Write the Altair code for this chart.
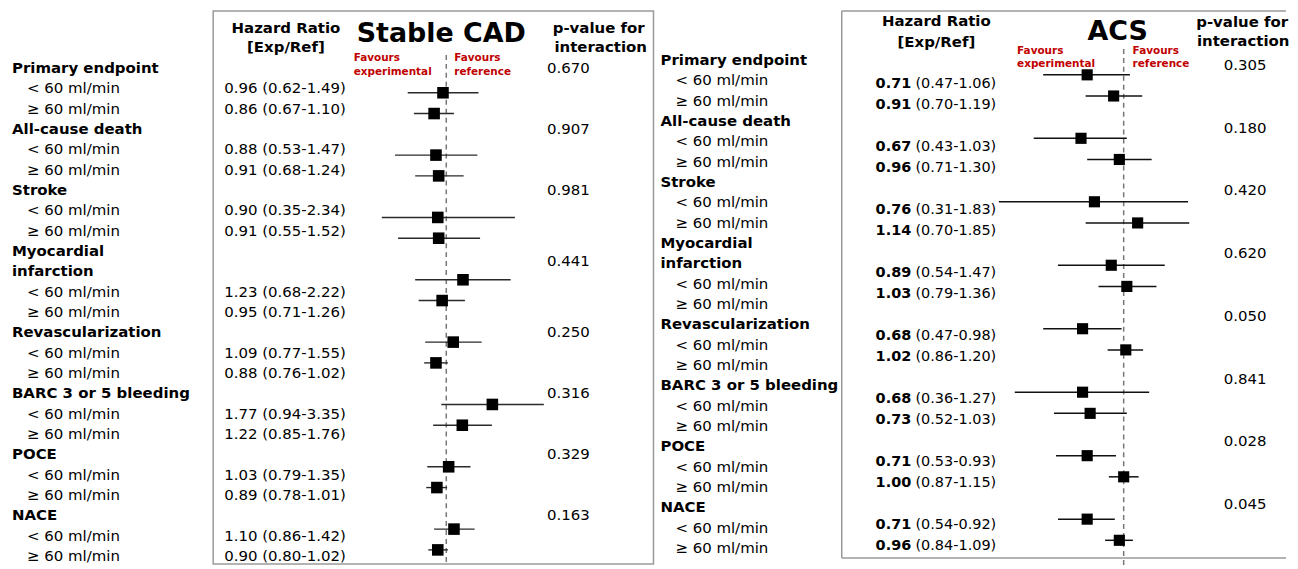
import altair as alt
import pandas as pd

# ---------------- data ----------------
header_lines = [["Primary endpoint"], ["All-cause death"], ["Stroke"],
                ["Myocardial", "infarction"], ["Revascularization"],
                ["BARC 3 or 5 bleeding"], ["POCE"], ["NACE"]]
subgroups = ["< 60 ml/min", "\u2265 60 ml/min"]

cad_hr = [0.96, 0.86, 0.88, 0.91, 0.90, 0.91, 1.23, 0.95, 1.09, 0.88, 1.77, 1.22, 1.03, 0.89, 1.10, 0.90]
cad_lo = [0.62, 0.67, 0.53, 0.68, 0.35, 0.55, 0.68, 0.71, 0.77, 0.76, 0.94, 0.85, 0.79, 0.78, 0.86, 0.80]
cad_hi = [1.49, 1.10, 1.47, 1.24, 2.34, 1.52, 2.22, 1.26, 1.55, 1.02, 3.35, 1.76, 1.35, 1.01, 1.42, 1.02]
cad_p = ["0.670", "0.907", "0.981", "0.441", "0.250", "0.316", "0.329", "0.163"]

acs_hr = [0.71, 0.91, 0.67, 0.96, 0.76, 1.14, 0.89, 1.03, 0.68, 1.02, 0.68, 0.73, 0.71, 1.00, 0.71, 0.96]
acs_lo = [0.47, 0.70, 0.43, 0.71, 0.31, 0.70, 0.54, 0.79, 0.47, 0.86, 0.36, 0.52, 0.53, 0.87, 0.54, 0.84]
acs_hi = [1.06, 1.19, 1.03, 1.30, 1.83, 1.85, 1.47, 1.36, 0.98, 1.20, 1.27, 1.03, 0.93, 1.15, 0.92, 1.09]
acs_p = ["0.305", "0.180", "0.420", "0.620", "0.050", "0.841", "0.028", "0.045"]

FONT = "DejaVu Sans"
RED = "#c00000"
FRAME = "#9a9a9a"


def build(hr, lo, hi, p):
    labs, est, prs = [], [], []
    r = 0
    for g, lines in enumerate(header_lines):
        hrows = []
        for line in lines:
            labs.append({"text": line, "row": r, "kind": "header"})
            hrows.append(r)
            r += 1
        prs.append({"p": p[g], "row": sum(hrows) / len(hrows), "k": 3 * g})
        for j, sg in enumerate(subgroups):
            i = 2 * g + j
            labs.append({"text": sg, "row": r, "kind": "sub"})
            est.append({"hr": hr[i], "lo": lo[i], "hi": hi[i], "row": r, "k": 3 * g + j,
                        "full": f"{hr[i]:.2f} ({lo[i]:.2f}-{hi[i]:.2f})",
                        "hrs": f"{hr[i]:.2f}", "ci": f"({lo[i]:.2f}-{hi[i]:.2f})"})
            r += 1
    return pd.DataFrame(labs), pd.DataFrame(est), pd.DataFrame(prs)


def ysc(s, p, H):
    return alt.Scale(domain=[-s / p, (H - s) / p], reverse=True, nice=False, zero=False)


def one():
    return pd.DataFrame({"t": ["x"]})


def txt(t, x, y, size, bold=False, color="black", align="center"):
    return alt.Chart(pd.DataFrame({"t": [t]})).mark_text(
        fontSize=size, fontWeight="bold" if bold else "normal", color=color,
        align=align, baseline="middle").encode(text="t:N", x=alt.value(x), y=alt.value(y))


def labels_chart(lab, W, H, s, p, xh, xs_):
    sc = ysc(s, p, H)
    base = alt.Chart(lab)
    heads = base.transform_filter(alt.datum.kind == "header").mark_text(
        align="left", baseline="middle", fontSize=15, fontWeight="bold", color="black").encode(
        text="text:N", x=alt.value(xh), y=alt.Y("row:Q", scale=sc, axis=None))
    subs = base.transform_filter(alt.datum.kind == "sub").mark_text(
        align="left", baseline="middle", fontSize=15, color="black").encode(
        text="text:N", x=alt.value(xs_), y=alt.Y("row:Q", scale=sc, axis=None))
    return alt.layer(heads, subs).properties(
        width=W, height=H, view=alt.ViewBackground(stroke="transparent"))


BOX = alt.ViewBackground(stroke=FRAME, strokeWidth=1.5)

# ---------------- left panel: Stable CAD ----------------
labL, estL, pL = build(cad_hr, cad_lo, cad_hi, cad_p)
HL, WL = 555, 442
xsL = alt.Scale(type="log", domain=[0.45, 4.0], range=[169.3, 346.3], clamp=True)
labelGridL = ysc(57, 20.42, HL)
markGridL = ysc(82, 20.86, HL)

ciL = alt.Chart(estL).mark_rule(color="#2a2a2a", strokeWidth=1.4).encode(
    x=alt.X("lo:Q", scale=xsL, axis=None), x2="hi:Q",
    y=alt.Y("k:Q", scale=markGridL, axis=None))
ptL = alt.Chart(estL).mark_point(shape="square", filled=True, size=135, color="black", opacity=1).encode(
    x=alt.X("hr:Q", scale=xsL, axis=None), y=alt.Y("k:Q", scale=markGridL, axis=None))
refL = alt.Chart(one()).mark_rule(
    color="#777777", strokeWidth=1.5, strokeDash=[5, 4]).encode(
    x=alt.XDatum(1.0, type="quantitative", scale=xsL, axis=None),
    y=alt.value(44), y2=alt.value(HL))
hrtL = alt.Chart(estL).mark_text(align="left", baseline="middle", fontSize=15, color="black").encode(
    text="full:N", x=alt.value(11), y=alt.Y("row:Q", scale=labelGridL, axis=None))
pvL = alt.Chart(pL).mark_text(align="left", baseline="middle", fontSize=15, color="black").encode(
    text="p:N", x=alt.value(335), y=alt.Y("row:Q", scale=labelGridL, axis=None))

mainL = alt.layer(
    refL, ciL, ptL, hrtL, pvL,
    txt("Hazard Ratio", 73, 17, 15, True),
    txt("[Exp/Ref]", 73, 36, 15, True),
    txt("Stable CAD", 229, 23, 27, True),
    txt("p-value for", 387, 17, 15, True),
    txt("interaction", 389, 36, 15, True),
    txt("Favours", 141, 47, 10.5, True, RED, "left"),
    txt("experimental", 141, 61.5, 10.5, True, RED, "left"),
    txt("Favours", 242, 47, 10.5, True, RED, "left"),
    txt("reference", 242, 61.5, 10.5, True, RED, "left"),
).resolve_scale(y="independent").properties(width=WL, height=HL, view=BOX)

leftLabels = labels_chart(labL, 205, HL, 57, 20.42, 3, 18)

# ---------------- right panel: ACS ----------------
labR, estR, pR = build(acs_hr, acs_lo, acs_hi, acs_p)
HR_, WR = 549, 446
xsR = alt.Scale(type="log", domain=[0.3, 2.0], range=[154.2, 357.2])
hrGridR = ysc(73, 21.1, HR_)
pGridR = ysc(54, 21.0, HR_)
markGridR = ysc(64, 21.24, HR_)

ciR = alt.Chart(estR).mark_rule(color="#111111", strokeWidth=1.5).encode(
    x=alt.X("lo:Q", scale=xsR, axis=None), x2="hi:Q",
    y=alt.Y("k:Q", scale=markGridR, axis=None))
ptR = alt.Chart(estR).mark_point(shape="square", filled=True, size=125, color="black", opacity=1).encode(
    x=alt.X("hr:Q", scale=xsR, axis=None), y=alt.Y("k:Q", scale=markGridR, axis=None))
refR = alt.Chart(one()).mark_rule(
    color="#777777", strokeWidth=1.5, strokeDash=[5, 4]).encode(
    x=alt.XDatum(1.0, type="quantitative", scale=xsR, axis=None),
    y=alt.value(38), y2=alt.value(HR_ + 8))
hrbR = alt.Chart(estR).mark_text(align="left", baseline="middle", fontSize=14.5,
                                 fontWeight="bold", color="black").encode(
    text="hrs:N", x=alt.value(34), y=alt.Y("k:Q", scale=hrGridR, axis=None))
ciTR = alt.Chart(estR).mark_text(align="left", baseline="middle", fontSize=14.5, color="black").encode(
    text="ci:N", x=alt.value(74), y=alt.Y("k:Q", scale=hrGridR, axis=None))
pvR = alt.Chart(pR).mark_text(align="center", baseline="middle", fontSize=15, color="black").encode(
    text="p:N", x=alt.value(405), y=alt.Y("k:Q", scale=pGridR, axis=None))

# open frame (top, left, bottom) – the right edge of this panel is cut off in the reference
frameTop = alt.Chart(one()).mark_rule(color=FRAME, strokeWidth=1.5).encode(
    x=alt.value(0), x2=alt.value(WR), y=alt.value(0))
frameBot = alt.Chart(one()).mark_rule(color=FRAME, strokeWidth=1.5).encode(
    x=alt.value(0), x2=alt.value(WR), y=alt.value(HR_))
frameLeft = alt.Chart(one()).mark_rule(color=FRAME, strokeWidth=1.5).encode(
    x=alt.value(0), y=alt.value(0), y2=alt.value(HR_))

mainR = alt.layer(
    frameTop, frameBot, frameLeft,
    refR, ciR, ptR, hrbR, ciTR, pvR,
    txt("Hazard Ratio", 95, 10, 15, True),
    txt("[Exp/Ref]", 95, 31, 15, True),
    txt("ACS", 277, 21, 27, True),
    txt("p-value for", 402, 11, 15, True),
    txt("interaction", 403, 30, 15, True),
    txt("Favours", 176, 40, 10.5, True, RED, "left"),
    txt("experimental", 176, 53, 10.5, True, RED, "left"),
    txt("Favours", 292, 40, 10.5, True, RED, "left"),
    txt("reference", 292, 53, 10.5, True, RED, "left"),
).resolve_scale(y="independent").properties(
    width=WR, height=HR_, view=alt.ViewBackground(stroke="transparent"))

rightLabels = labels_chart(labR, 189, HR_, 49, 20.42, 7, 22)

chart = alt.hconcat(leftLabels, mainL, rightLabels, mainR, spacing=0, bounds="flush").properties(
    padding={"left": 0, "top": 0, "right": 0, "bottom": 0}
).configure(font=FONT).configure_view(stroke="transparent")

chart.save("out.html", embed_options={"renderer": "svg", "actions": False})
